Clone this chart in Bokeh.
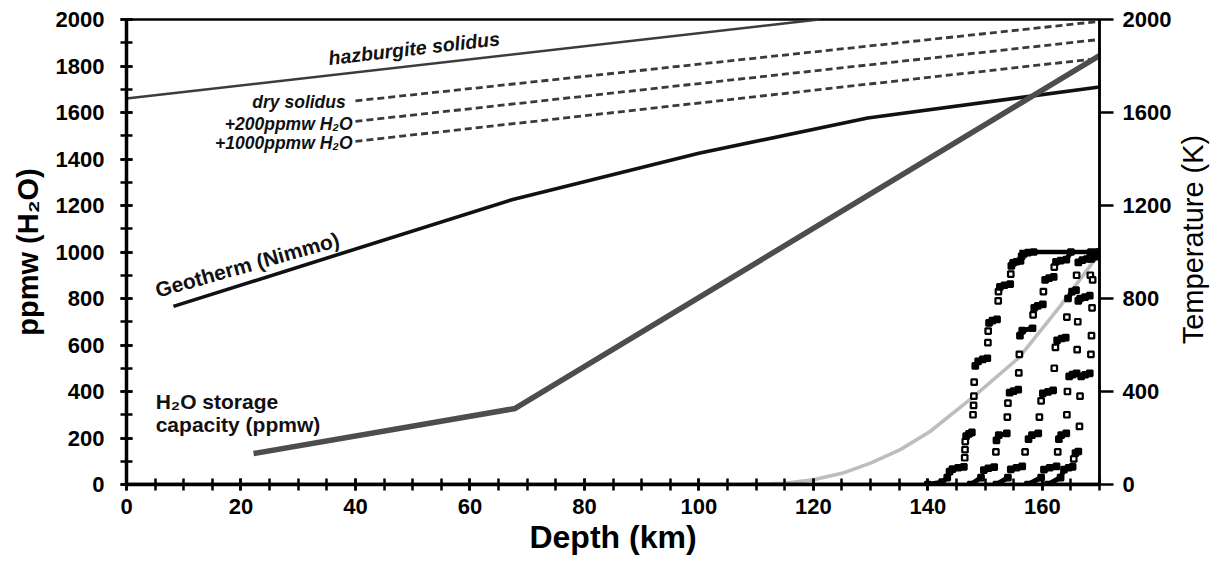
from bokeh.plotting import figure
from bokeh.layouts import row
from bokeh.models import Range1d, LinearAxis, SingleIntervalTicker, Label
from bokeh.embed import file_html
from bokeh.resources import INLINE

# ---------------- data ----------------
harz_depth = [0, 121]
harz_T = [1660, 2000]
dry_depth = [40, 170]
dry_T = [1650, 1992]
w200_depth = [40, 170]
w200_T = [1562, 1914]
w1000_depth = [40, 170]
w1000_T = [1476, 1833]
geo_depth = [8.2, 67.5, 100, 129.5, 170]
geo_T = [766, 1226, 1425, 1576, 1710]
stor_depth = [22.2, 67.9, 170]
stor_ppm = [133, 327, 1845]
gc_depth = [109, 115, 120, 125, 130, 135.2, 140.4, 148, 155.9, 163.1, 169.6, 170]
gc_ppm = [0, 5, 20, 48, 92, 150, 228, 378, 545, 766, 981, 1000]
base_depth = [0, 170]
base_ppm = [0, 0]
top_depth = [156.0, 170]
top_ppm = [1000, 1000]

A_depth = [140.0, 142.5, 143.4, 143.8, 144.3, 145.3, 146.3, 146.45, 146.5, 146.55, 146.7, 147.2, 147.7, 147.9, 148.0, 148.05, 148.1, 148.3, 148.8, 149.6, 150.4, 150.5, 150.55, 150.7, 151.3, 152.1, 152.3, 152.35, 152.6, 153.4, 154.4, 154.5, 154.6, 154.9, 155.5, 156.2, 156.4, 156.8, 157.5, 158.5]
A_ppm = [0, 10, 30, 55, 66, 72, 76, 115, 150, 185, 208, 218, 224, 300, 340, 380, 440, 510, 530, 538, 543, 610, 660, 695, 705, 710, 790, 830, 850, 857, 862, 905, 940, 953, 958, 962, 982, 992, 997, 1000]
B_depth = [147.5, 149.3, 149.8, 150.6, 151.6, 151.9, 152.0, 152.4, 153.8, 153.9, 154.0, 154.3, 155.0, 155.8, 155.9, 156.0, 156.1, 156.5, 158.3, 158.4, 158.6, 159.2, 160.1, 160.2, 160.5, 161.2, 162.0, 162.1, 162.4, 163.2, 164.2, 165.0]
B_ppm = [0, 30, 62, 70, 75, 140, 190, 212, 220, 290, 350, 395, 402, 408, 480, 560, 640, 662, 672, 730, 760, 768, 775, 830, 880, 888, 893, 935, 958, 963, 967, 1000]
C_depth = [152.0, 154.0, 154.5, 155.5, 156.5, 157.0, 157.6, 158.2, 159.3, 159.5, 159.8, 160.1, 161.0, 161.9, 162.1, 162.3, 162.6, 163.4, 164.1, 164.3, 164.5, 165.2, 165.9, 166.0, 166.3, 167.0, 167.8, 168.5]
C_ppm = [0, 30, 65, 72, 78, 140, 195, 212, 220, 290, 360, 392, 398, 405, 500, 590, 620, 628, 632, 720, 800, 830, 836, 900, 955, 965, 970, 1000]
D_depth = [157.5, 159.8, 160.3, 161.3, 162.5, 162.7, 162.9, 163.3, 164.2, 164.3, 164.4, 164.7, 165.3, 166.0, 166.1, 166.2, 166.3, 166.6, 167.5, 168.3, 168.4, 168.6, 169.0, 169.6]
D_ppm = [0, 30, 64, 72, 78, 140, 195, 212, 220, 300, 400, 465, 473, 478, 580, 700, 790, 800, 806, 812, 900, 970, 988, 1000]
E_depth = [161.0, 163.2, 163.8, 164.6, 165.3, 165.5, 165.8, 166.3, 166.5, 166.6, 166.8, 167.5, 168.3, 168.5, 168.6, 168.7, 168.8, 169.5, 170.0]
E_ppm = [0, 30, 64, 72, 76, 110, 135, 142, 250, 380, 465, 472, 478, 560, 640, 760, 880, 980, 1000]
stair_series = [(A_depth, A_ppm), (B_depth, B_ppm), (C_depth, C_ppm), (D_depth, D_ppm), (E_depth, E_ppm)]

x_ticks_interval = 20
y_ticks_interval = 200
t_ticks_interval = 400

# ---------------- figure ----------------
FONT = "Liberation Sans"
FW, FH = 973, 465
XMAX, YMAX = 170, 2000
TOP, BOTTOM = 19, 62

p = figure(frame_width=FW, frame_height=FH, output_backend="svg", toolbar_location=None,
           x_range=Range1d(0, XMAX), y_range=Range1d(0, YMAX),
           min_border_left=126, min_border_right=72, min_border_top=TOP, min_border_bottom=BOTTOM,
           outline_line_color="black", outline_line_width=2.5,
           background_fill_color="white", border_fill_color="white")
p.grid.visible = False
p.extra_y_ranges = {"T": Range1d(0, YMAX)}

# lines
p.line(harz_depth, harz_T, line_color="#3c3c3c", line_width=2.6)
for d, t in [(dry_depth, dry_T), (w200_depth, w200_T), (w1000_depth, w1000_T)]:
    p.line(d, t, line_color="#3a3a3a", line_width=2.8, line_dash="7 4")
p.line(geo_depth, geo_T, line_color="#111111", line_width=3.6)
p.line(gc_depth, gc_ppm, line_color="#bdbdbd", line_width=3.6)
p.line(stor_depth, stor_ppm, line_color="#4d4d4d", line_width=5.5)
p.line(base_depth, base_ppm, line_color="black", line_width=3.5)
p.line(top_depth, top_ppm, line_color="black", line_width=4.5)

# staircase series: hollow squares at every point, solid black where the
# points crowd together (flat and bending parts)
sx, sy = FW / XMAX, FH / YMAX
for dd, pp in stair_series:
    p.scatter(dd, pp, marker="square", size=5.5, fill_color="white", line_color="black", line_width=2.2)
    xs, ys = [], []
    for i in range(len(dd) - 1):
        dx = (dd[i + 1] - dd[i]) * sx
        dy = (pp[i + 1] - pp[i]) * sy
        if abs(dy) <= 2.5 * abs(dx):
            xs.append([dd[i], dd[i + 1]])
            ys.append([pp[i], pp[i + 1]])
    if xs:
        p.multi_line(xs, ys, line_color="black", line_width=5, line_cap="round")

# ---------------- axes ----------------
xa = p.xaxis[0]
xa.ticker = SingleIntervalTicker(interval=x_ticks_interval, num_minor_ticks=4)
ya = p.yaxis[0]
ya.ticker = SingleIntervalTicker(interval=y_ticks_interval, num_minor_ticks=2)
for ax in (xa, ya):
    ax.axis_line_width = 3.5
    ax.axis_line_color = "black"
    ax.major_tick_in = 6
    ax.major_tick_out = 6
    ax.minor_tick_in = 6
    ax.minor_tick_out = 6
    ax.major_tick_line_width = 2.5
    ax.minor_tick_line_width = 2.5
    ax.major_label_text_font = FONT
    ax.major_label_text_font_style = "bold"
    ax.major_label_text_font_size = "22px"
    ax.major_label_text_color = "black"
    ax.axis_label_text_font = FONT
    ax.axis_label_text_font_style = "bold"
    ax.axis_label_text_font_size = "29px"
    ax.axis_label_text_color = "black"
xa.axis_label = "Depth (km)"
xa.axis_label_text_font_size = "32px"
xa.major_label_standoff = 8
xa.axis_label_standoff = 2
ya.axis_label = "ppmw (H₂O)"
ya.major_label_standoff = 16
ya.axis_label_standoff = 9

ra = LinearAxis(y_range_name="T",
                ticker=SingleIntervalTicker(interval=t_ticks_interval, num_minor_ticks=0))
ra.axis_line_width = 2.5
ra.axis_line_color = "black"
ra.major_tick_in = 0
ra.major_tick_out = 14
ra.major_tick_line_width = 2.5
ra.major_tick_line_color = "black"
ra.minor_tick_in = 0
ra.minor_tick_out = 0
ra.major_label_text_font = FONT
ra.major_label_text_font_style = "bold"
ra.major_label_text_font_size = "22px"
ra.major_label_text_color = "black"
ra.major_label_standoff = 9
p.add_layout(ra, "right")

# ---------------- annotations ----------------
def lab(fig, x, y, text, size, style, angle_deg=0, align="left", baseline="alphabetic", color="#111111"):
    fig.add_layout(Label(x=x, y=y, text=text, text_font=FONT, text_font_size=size,
                         text_font_style=style, text_color=color, angle=angle_deg * 3.14159265 / 180,
                         text_align=align, text_baseline=baseline))

lab(p, 35.3, 1834, "hazburgite solidus", "19.5px", "bold italic", 6.6)
lab(p, 38.3, 1645, "dry solidus", "17.5px", "bold italic", 0, "right")
lab(p, 39.5, 1552, "+200ppmw H₂O", "17.5px", "bold italic", 0, "right")
lab(p, 39.5, 1468, "+1000ppmw H₂O", "17.5px", "bold italic", 0, "right")
lab(p, 5.1, 834, "Geotherm (Nimmo)", "21px", "bold", 15.8)
lab(p, 5.1, 357, "H₂O storage", "21px", "bold")
lab(p, 5.1, 259, "capacity (ppmw)", "21px", "bold")

# right-hand title strip (reads bottom to top, like the reference)
W2 = 36
p2 = figure(frame_width=W2, frame_height=FH, output_backend="svg", toolbar_location=None,
            x_range=Range1d(0, W2), y_range=Range1d(0, FH),
            min_border_left=0, min_border_right=0, min_border_top=TOP, min_border_bottom=BOTTOM,
            outline_line_color=None, background_fill_color="white", border_fill_color="white")
p2.axis.visible = False
p2.grid.visible = False
lab(p2, 18, 245, "Temperature (K)", "29px", "normal", 90, "center", "middle", "black")

layout = row(p, p2, spacing=0)
open("out.html", "w").write(file_html(layout, INLINE))
